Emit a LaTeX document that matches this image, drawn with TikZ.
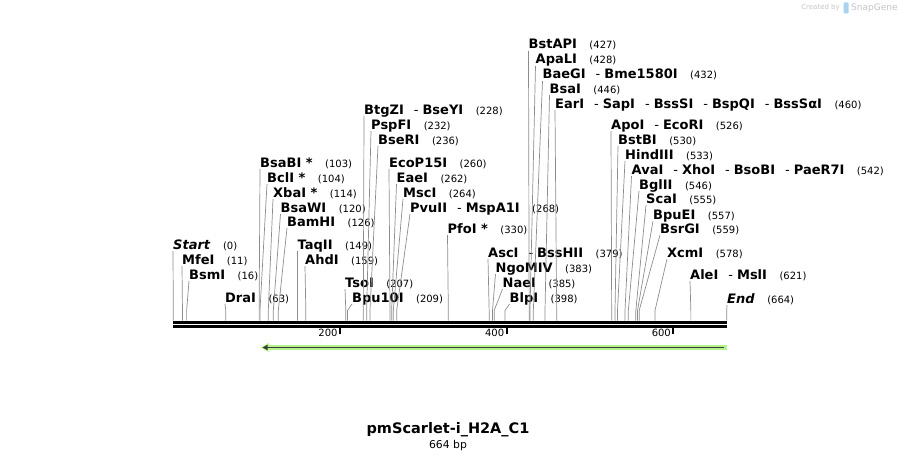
\documentclass[tikz,border=0pt]{standalone}
\usepackage{fontspec}
\setmainfont{DejaVu Sans}
\usetikzlibrary{arrows.meta,positioning}

\definecolor{siteline}{HTML}{8C8C8C}
\definecolor{featgreen}{HTML}{B4F28A}
\definecolor{featdark}{HTML}{3C3C3C}
\definecolor{credit}{HTML}{C4C4C4}
\definecolor{logoblue}{HTML}{A9D3F2}

\newcommand{\enzsep}{{\mdseries\hspace{10pt}-\hspace{4pt}}}
\newcommand{\bpx}[1]{173.3+0.8334*#1}

\tikzset{
    enzlabel/.style={anchor=base west, inner sep=0pt, font=\fontsize{13}{15}\selectfont},
    cutline/.style={draw=siteline, line width=0.7pt},
}

\begin{document}
\begin{tikzpicture}[x=1pt,y=-1pt]
    \useasboundingbox (0,0) rectangle (900,460);

    % sequence bar
    \coordinate (bar start) at (173.3,322);
    \coordinate (bar end)   at (726.7,322);
    \draw [line width=3pt] (bar start) -- (bar end);
    \draw [line width=3pt] ([yshift=-4.5pt]bar start) -- ([yshift=-4.5pt]bar end);

    \foreach \t in {200,400,600}{%
        \draw [line width=2pt] (\bpx{\t},327.5) -- (\bpx{\t},334) node [pos=0.9, left=1.5pt, inner sep=0pt, font=\fontsize{10}{12}\selectfont] {\t};
    }

    % enzyme sites
    \foreach \bp/\lx/\ly/\nm [count=\i] in {%
        0/173/249/{\itshape Start},
        11/182/264/MfeI,
        16/189/279/BsmI,
        63/225/302/DraI,
        103/260/167/{BsaBI *},
        104/267/182/{BclI *},
        114/273/197/{XbaI *},
        120/280.5/212/BsaWI,
        126/287/226/BamHI,
        149/297.5/249/TaqII,
        159/305/264/AhdI,
        207/345/287/TsoI,
        209/352/302/Bpu10I,
        228/364/114/{BtgZI\enzsep BseYI},
        232/371/129/PspFI,
        236/378/144/BseRI,
        260/389/167/EcoP15I,
        262/396.5/182/EaeI,
        264/403/197/MscI,
        268/410/212/{PvuII\enzsep MspA1I},
        330/447.5/233/{PfoI *},
        379/488/257/{AscI\enzsep BssHII},
        383/495.5/272/NgoMIV,
        385/502.5/287/NaeI,
        398/509.5/302/BlpI,
        427/528.5/49/BstAPI,
        428/535.5/64/ApaLI,
        432/542.5/79/{BaeGI\enzsep Bme1580I},
        446/549.5/93/BsaI,
        460/555/108/{EarI\enzsep SapI\enzsep BssSI\enzsep BspQI\enzsep BssSαI},
        526/611/129/{ApoI\enzsep EcoRI},
        530/618/144/BstBI,
        533/625/159/HindIII,
        542/631.5/174/{AvaI\enzsep XhoI\enzsep BsoBI\enzsep PaeR7I},
        546/639/189/BglII,
        555/646/203/ScaI,
        557/653/219/BpuEI,
        559/660/233/BsrGI,
        578/667/257/XcmI,
        621/690/279/{AleI\enzsep MslI},
        664/727/303/{\itshape End}}{%
        \coordinate (s\i) at (\bpx{\bp},320.5);
        \node [enzlabel] (l\i) at (\lx,\ly) {\textbf{\nm}\hspace{12.5pt}{\fontsize{10}{12}\selectfont(\bp)}};
        \draw [cutline] (s\i) -- ++(0,-10) -- ([yshift=-2pt]l\i.base west);
    }

    % feature arrow
    \coordinate (feat end) at (726.7,347.5);
    \coordinate (feat tip) at (260.5,347.5);
    \draw [featgreen, line width=5pt] (feat end) -- ([xshift=6pt]feat tip);
    \fill [featgreen] (feat tip) -- ++(8,-4.5) -- ++(0,9) -- cycle;
    \draw [featdark, line width=1.4pt, -{Triangle[length=5pt,width=5pt]}] ([xshift=-2.5pt]feat end) -- ([xshift=2pt]feat tip);

    % title
    \node [font=\bfseries\fontsize{14.5}{16}\selectfont] (title) at (448,429.5) {pmScarlet-i\_H2A\_C1};
    \node [font=\fontsize{10.8}{12}\selectfont, below=0pt of title.south, inner sep=0pt] (size) {664 bp};

    % credit
    \node [credit, anchor=east, inner sep=0pt, font=\fontsize{7}{8}\selectfont] (made) at (840,8) {Created by};
    \fill [logoblue, rounded corners=1pt] (843.5,2.5) rectangle (848.5,13.5);
    \node [credit, anchor=west, inner sep=0pt, font=\fontsize{9}{10}\selectfont] (brand) at (851,8) {SnapGene};
\end{tikzpicture}
\end{document}
